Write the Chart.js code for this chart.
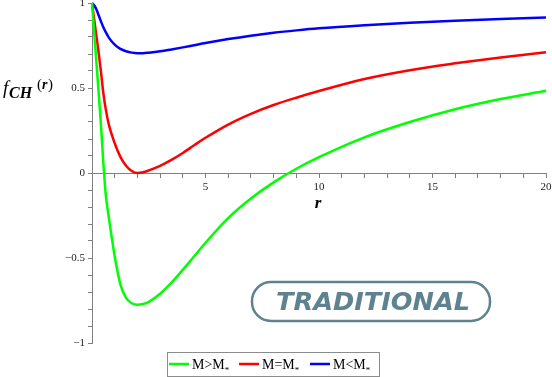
<!DOCTYPE html>
<html>
<head>
<meta charset="utf-8">
<script src="https://cdn.jsdelivr.net/npm/chart.js@4.4.1/dist/chart.umd.min.js"></script>
<style>
  html, body { margin: 0; padding: 0; background: #fff; }
  #wrap { width: 552px; height: 377px; position: relative; }
</style>
</head>
<body>
<div id="wrap"><canvas id="myChart"></canvas></div>
<script>
// r values
const rValues = [0, 0.1, 0.2, 0.3, 0.4, 0.5, 0.6, 0.75, 1, 1.25, 1.5, 1.75, 2, 2.25, 2.5, 3, 3.5, 4, 4.5, 5, 6, 7, 8, 9, 10, 12, 14, 16, 18, 20];

// M > M*  (green)
const fGreater = [1, 0.82, 0.64, 0.46, 0.27, 0.06, -0.12, -0.27, -0.49, -0.655, -0.735, -0.766, -0.775, -0.771, -0.758, -0.71, -0.645, -0.57, -0.49, -0.41, -0.265, -0.15, -0.055, 0.025, 0.093, 0.21, 0.3, 0.375, 0.435, 0.484];
// M = M*  (red)
const fEqual = [1, 0.9, 0.8, 0.7, 0.59, 0.47, 0.38, 0.28, 0.175, 0.095, 0.043, 0.012, 0, 0.004, 0.015, 0.042, 0.077, 0.118, 0.163, 0.207, 0.285, 0.348, 0.4, 0.443, 0.482, 0.553, 0.605, 0.645, 0.68, 0.71];
// M < M*  (blue)
const fLess = [1, 0.985, 0.96, 0.925, 0.89, 0.857, 0.83, 0.795, 0.755, 0.73, 0.716, 0.708, 0.705, 0.705, 0.708, 0.716, 0.727, 0.739, 0.752, 0.765, 0.788, 0.808, 0.825, 0.839, 0.851, 0.869, 0.884, 0.896, 0.906, 0.915];

const seriesNames = ["M>M", "M=M", "M<M"];
const seriesColors = ["#00ff00", "#ff0000", "#0000ff"];
const xTickLabels = [5, 10, 15, 20];
const yTickLabels = [-1, -0.5, 0, 0.5, 1];

const axisColor = "#808080";
const serif = "'Liberation Serif', 'Times New Roman', serif";

function toPoints(ys) {
  return rValues.map((r, i) => ({ x: r, y: ys[i] }));
}

/*extra texts: axis titles, badge and legend box*/
const overlay = {
  id: "overlay",
  afterDraw(chart) {
    const ctx = chart.ctx;
    ctx.save();
    ctx.fillStyle = "#000";
    ctx.textBaseline = "alphabetic";

    // y title  f_CH(r)
    ctx.font = "italic 19px " + serif;
    ctx.fillText("f", 3, 94);
    ctx.font = "bold italic 16px " + serif;
    ctx.fillText("CH", 9, 98);
    ctx.font = "15px " + serif;
    ctx.fillText("(", 37, 89);
    ctx.font = "bold italic 14px " + serif;
    ctx.fillText("r", 42, 89);
    ctx.font = "15px " + serif;
    ctx.fillText(")", 48, 89);

    // x title r
    ctx.font = "bold italic 17px " + serif;
    ctx.textAlign = "center";
    ctx.fillText("r", 318, 208);

    // TRADITIONAL badge
    const bc = "#5f8290";
    ctx.strokeStyle = bc;
    ctx.lineWidth = 2.5;
    ctx.beginPath();
    ctx.roundRect(252, 282, 238, 39, 19);
    ctx.stroke();
    ctx.fillStyle = bc;
    ctx.font = "italic bold 25px 'DejaVu Sans', sans-serif";
    ctx.textAlign = "left";
    const word = "TRADITIONAL";
    const w = ctx.measureText(word).width;
    ctx.save();
    ctx.translate(276, 310);
    ctx.scale(194 / w, 1);
    ctx.fillText(word, 0, 0);
    ctx.restore();

    // legend
    ctx.strokeStyle = "#8c8c8c";
    ctx.lineWidth = 1;
    ctx.strokeRect(167.5, 352.5, 212, 24);
    const starts = [169, 239, 310];
    chart.data.datasets.forEach((ds, i) => {
      const x0 = starts[i];
      ctx.strokeStyle = ds.borderColor;
      ctx.lineWidth = 2.5;
      ctx.beginPath();
      ctx.moveTo(x0, 364);
      ctx.lineTo(x0 + 20, 364);
      ctx.stroke();
      ctx.fillStyle = "#000";
      ctx.font = "14px " + serif;
      ctx.fillText(ds.label, x0 + 23, 369);
      const tw = ctx.measureText(ds.label).width;
      ctx.font = "9px " + serif;
      ctx.fillText("*", x0 + 23 + tw, 373);
    });
    ctx.restore();
  },
};

const ctx = document.getElementById("myChart").getContext("2d");
const myChart = new Chart(ctx, {
  type: "line",
  data: {
    datasets: [fGreater, fEqual, fLess].map((ys, i) => ({
      label: seriesNames[i],
      data: toPoints(ys),
      borderColor: seriesColors[i],
      borderWidth: 2.5,
      pointRadius: 0,
      fill: false,
      cubicInterpolationMode: "monotone",
      clip: false,
    })),
  },
  options: {
    responsive: true,
    maintainAspectRatio: false,
    animation: false,
    events: [],
    layout: { padding: { top: 3, right: 6, bottom: 34, left: 0 } },
    plugins: { legend: { display: false }, tooltip: { enabled: false } },
    scales: {
      x: {
        type: "linear",
        position: { y: 0 },
        min: 0,
        max: 20,
        afterFit: (scale) => { scale.paddingLeft = 0; scale.paddingRight = 0; },
        border: { color: axisColor, width: 1 },
        grid: { drawOnChartArea: false, drawTicks: true, tickLength: 4, color: axisColor },
        ticks: {
          stepSize: 1,
          autoSkip: false,
          maxRotation: 0,
          padding: 4,
          color: "#222",
          font: { family: serif, size: 11 },
          callback: (v) => (xTickLabels.includes(v) ? String(v) : ""),
        },
      },
      y: {
        type: "linear",
        position: "left",
        min: -1,
        max: 1,
        afterFit: (scale) => { scale.width = 92; scale.paddingTop = 0; scale.paddingBottom = 0; },
        border: { color: axisColor, width: 1 },
        grid: { drawOnChartArea: false, drawTicks: true, tickLength: 4, color: axisColor },
        ticks: {
          stepSize: 0.1,
          autoSkip: false,
          padding: 3,
          color: "#222",
          font: { family: serif, size: 11 },
          callback: (v) => {
            const k = Math.round(v * 10) / 10;
            if (!yTickLabels.includes(k)) return "";
            return k < 0 ? "\u2212" + String(-k) : String(k);
          },
        },
      },
    },
  },
  plugins: [overlay],
});
</script>
</body>
</html>
